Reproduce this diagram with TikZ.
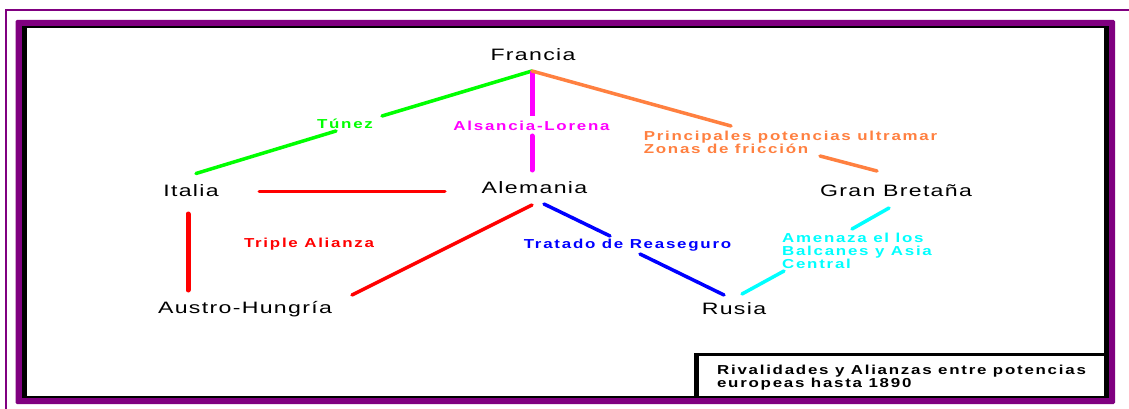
\documentclass[tikz,border=0pt]{standalone}
\usepackage{fontspec}
\newfontfamily\countryfont[FakeStretch=1.4,LetterSpace=8]{Liberation Sans}
\newfontfamily\labelfont[FakeStretch=1.3,LetterSpace=13.5]{Liberation Sans Bold}
\definecolor{framepurple}{RGB}{128,0,128}
\definecolor{fricc}{RGB}{255,128,64}
\definecolor{purecyan}{RGB}{0,255,255}
\definecolor{puremag}{RGB}{255,0,255}
\definecolor{purered}{RGB}{255,0,0}
\definecolor{puregreen}{RGB}{0,255,0}
\definecolor{pureblue}{RGB}{0,0,255}
\tikzset{
  x=1pt,y=-1pt,
  country/.style={inner sep=0pt,font=\countryfont\fontsize{16.5}{18}\selectfont,text=black},
  lab/.style={inner sep=0pt,font=\labelfont\fontsize{13}{13}\selectfont,align=left},
  link/.style={line width=3.5pt,line cap=round}
}
\begin{document}
\begin{tikzpicture}
\useasboundingbox (0,0) rectangle (1129,409);
\fill[white] (0,0) rectangle (1129,409);
\draw[framepurple,line width=2pt] (1129,10) -- (6,10) -- (6,409);
\fill[framepurple,rounded corners=1.5pt] (15.5,20) rectangle (1115,404);
\fill[black] (22,26) rectangle (1109,398);
\fill[white] (26.5,28) rectangle (1104,396);
\fill[black] (694,353) rectangle (1104,356);
\fill[black] (694,353) rectangle (699,396);

\node[country] (fr) at (533,54.5) {Francia};
\node[country] (it) at (191,191) {Italia};
\node[country] (al) at (534.5,187.5) {Alemania};
\node[country] (gb) at (896,191) {Gran Bretaña};
\node[country] (au) at (245,309.5) {Austro-Hungría};
\node[country] (ru) at (734,309) {Rusia};

\node[lab,text=puregreen] (tu) at (345,123.5) {Túnez};
\node[lab,text=puremag] (as) at (531.5,126) {Alsancia-Lorena};
\node[lab,text=fricc] (zo) at (790.5,142) {Principales potencias ultramar\\Zonas de fricción};
\node[lab,text=purered] (tr) at (309,244.5) {Triple Alianza};
\node[lab,text=pureblue] (re) at (627.5,245) {Tratado de Reaseguro};
\node[lab,text=purecyan] (am) at (857,250.5) {Amenaza el los\\Balcanes y Asia\\Central};
\node[lab,text=black] (ti) at (901.5,377.5) {Rivalidades y Alianzas entre potencias\\europeas hasta 1890};

\coordinate (apex) at (532,71);
\coordinate (g1) at (196,173.5);
\coordinate (g2) at (336,131);
\coordinate (g3) at (382,116);
\coordinate (m1) at (532,116);
\coordinate (m2) at (532,136);
\coordinate (m3) at (532,170);
\coordinate (o1) at (731,126);
\coordinate (o2) at (820,156);
\coordinate (o3) at (877,171);
\coordinate (r1) at (259,191);
\coordinate (r2) at (445,191);
\coordinate (r3) at (188,214);
\coordinate (r4) at (188,290);
\coordinate (r5) at (352,295);
\coordinate (r6) at (532,205);
\coordinate (b1) at (544,204);
\coordinate (b2) at (610,236);
\coordinate (b3) at (640,254);
\coordinate (b4) at (724,295);
\coordinate (c1) at (889,208);
\coordinate (c2) at (852,229);
\coordinate (c3) at (784,271);
\coordinate (c4) at (742,294);

\draw[link,puregreen] (g1) -- (g2);
\draw[link,puregreen] (g3) -- (apex);
\draw[link,puremag,line width=5pt,line cap=butt] (apex) -- (m1);
\draw[link,puremag,line width=5pt] (m2) -- (m3);
\draw[link,fricc] (apex) -- (o1);
\draw[link,fricc] (o2) -- (o3);
\draw[link,purered,line width=3pt] (r1) -- (r2);
\draw[link,purered,line width=5pt] (r3) -- (r4);
\draw[link,purered] (r5) -- (r6);
\draw[link,pureblue] (b1) -- (b2);
\draw[link,pureblue] (b3) -- (b4);
\draw[link,purecyan] (c1) -- (c2);
\draw[link,purecyan] (c3) -- (c4);
\end{tikzpicture}
\end{document}
